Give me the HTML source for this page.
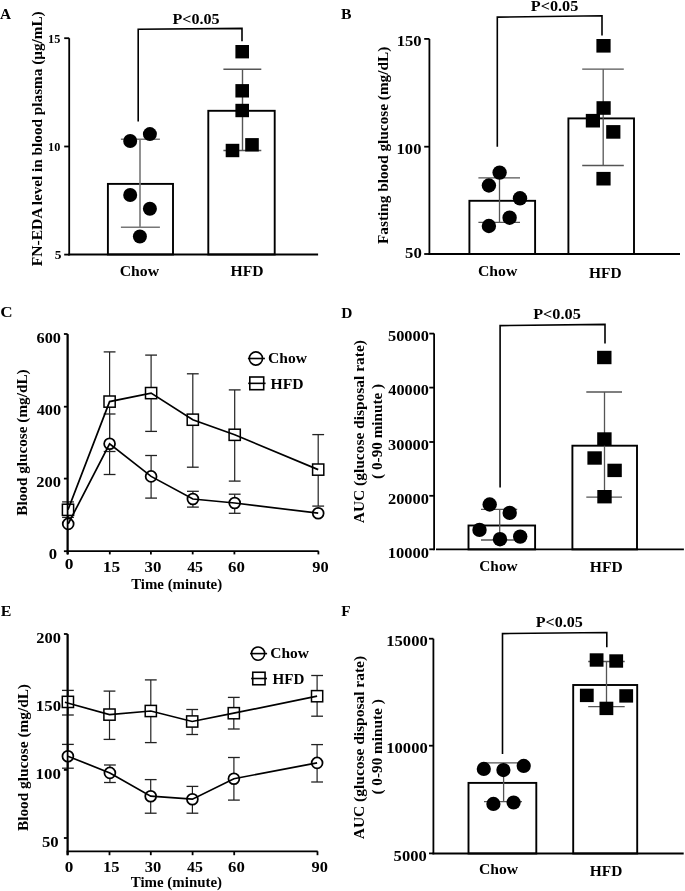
<!DOCTYPE html>
<html><head><meta charset="utf-8"><style>
html,body{margin:0;padding:0;background:#fff;}
svg{display:block;will-change:transform;}
text{font-family:"Liberation Serif", serif;font-weight:bold;fill:#000;}
</style></head><body>
<svg width="685" height="891" viewBox="0 0 685 891">
<rect x="0" y="0" width="685" height="891" fill="#fff"/>
<text x="-0.05" y="18.6" font-size="14" textLength="11.06" lengthAdjust="spacingAndGlyphs">A</text>
<line x1="69.2" y1="38.2" x2="69.2" y2="255.4" stroke="#000" stroke-width="1.8"/>
<line x1="64.2" y1="38.2" x2="69.2" y2="38.2" stroke="#000" stroke-width="1.8"/>
<line x1="64.2" y1="146.5" x2="69.2" y2="146.5" stroke="#000" stroke-width="1.8"/>
<line x1="64.2" y1="254.6" x2="69.2" y2="254.6" stroke="#000" stroke-width="1.8"/>
<text x="48.01" y="42.9" font-size="12.2" textLength="12.32" lengthAdjust="spacingAndGlyphs">15</text>
<text x="48.02" y="150.9" font-size="12.2" textLength="12.27" lengthAdjust="spacingAndGlyphs">10</text>
<text x="54.66" y="258.6" font-size="12.2" textLength="6.71" lengthAdjust="spacingAndGlyphs">5</text>
<line x1="68.3" y1="254.5" x2="318.1" y2="254.5" stroke="#000" stroke-width="1.8"/>
<text transform="translate(41.9 266.23) rotate(-90)" x="0" y="0" font-size="14.8" textLength="58.85" lengthAdjust="spacingAndGlyphs">FN-EDA</text>
<text transform="translate(41.9 205.3) rotate(-90)" x="0" y="0" font-size="14.8" textLength="193.98" lengthAdjust="spacingAndGlyphs">level in blood plasma (μg/mL)</text>
<rect x="107.9" y="183.9" width="65.1" height="70.6" fill="none" stroke="#000" stroke-width="1.9"/>
<rect x="208.3" y="110.8" width="66.4" height="143.7" fill="none" stroke="#000" stroke-width="1.9"/>
<line x1="140" y1="139.2" x2="140" y2="227.3" stroke="#777" stroke-width="1.6"/>
<line x1="120.9" y1="139.2" x2="159.9" y2="139.2" stroke="#777" stroke-width="1.6"/>
<line x1="120.9" y1="227.3" x2="159.9" y2="227.3" stroke="#777" stroke-width="1.6"/>
<line x1="242.5" y1="69.2" x2="242.5" y2="150.5" stroke="#555" stroke-width="1.4"/>
<line x1="223.4" y1="69.2" x2="261.3" y2="69.2" stroke="#555" stroke-width="1.4"/>
<line x1="223.4" y1="150.5" x2="261.3" y2="150.5" stroke="#555" stroke-width="1.4"/>
<circle cx="130.2" cy="141" r="7" fill="#000"/>
<circle cx="149.9" cy="134.1" r="7" fill="#000"/>
<circle cx="130.2" cy="195" r="7" fill="#000"/>
<circle cx="149.9" cy="208.8" r="7" fill="#000"/>
<circle cx="139.9" cy="236.5" r="7" fill="#000"/>
<rect x="235.4" y="45" width="13.6" height="13.4" fill="#000"/>
<rect x="235.4" y="84.1" width="13.6" height="13.4" fill="#000"/>
<rect x="235.4" y="103.8" width="13.6" height="13.4" fill="#000"/>
<rect x="225.7" y="143.8" width="13.6" height="13.4" fill="#000"/>
<rect x="245.2" y="138.1" width="13.6" height="13.4" fill="#000"/>
<polyline points="138.2,121.4 138.2,29.2 242,28.4 242,41.2" fill="none" stroke="#000" stroke-width="1.6" stroke-linejoin="miter"/>
<text x="172.56" y="23.5" font-size="15.3" textLength="47.12" lengthAdjust="spacingAndGlyphs">P&lt;0.05</text>
<text x="119.71" y="275.6" font-size="14.5" textLength="39.37" lengthAdjust="spacingAndGlyphs">Chow</text>
<text x="230.47" y="276.2" font-size="14.5" textLength="33.05" lengthAdjust="spacingAndGlyphs">HFD</text>
<text x="340.96" y="18.7" font-size="14" textLength="10.46" lengthAdjust="spacingAndGlyphs">B</text>
<line x1="429.4" y1="38.9" x2="429.4" y2="254.9" stroke="#000" stroke-width="1.8"/>
<line x1="424.2" y1="38.9" x2="429.4" y2="38.9" stroke="#000" stroke-width="1.8"/>
<line x1="424.2" y1="146.7" x2="429.4" y2="146.7" stroke="#000" stroke-width="1.8"/>
<line x1="424.2" y1="254" x2="429.4" y2="254" stroke="#000" stroke-width="1.8"/>
<text x="396.67" y="46" font-size="15.2" textLength="25" lengthAdjust="spacingAndGlyphs">150</text>
<text x="396.57" y="153.8" font-size="15.2" textLength="24.89" lengthAdjust="spacingAndGlyphs">100</text>
<text x="405.13" y="257.7" font-size="15.2" textLength="16.74" lengthAdjust="spacingAndGlyphs">50</text>
<line x1="428.5" y1="254" x2="680" y2="254" stroke="#000" stroke-width="1.8"/>
<text transform="translate(388.4 244.03) rotate(-90)" x="0" y="0" font-size="15.3" textLength="197.29" lengthAdjust="spacingAndGlyphs">Fasting blood glucose (mg/dL)</text>
<rect x="469.4" y="200.8" width="65.7" height="53.2" fill="none" stroke="#000" stroke-width="1.9"/>
<rect x="568.4" y="118.4" width="65.6" height="135.6" fill="none" stroke="#000" stroke-width="1.9"/>
<line x1="499.5" y1="177.9" x2="499.5" y2="222.4" stroke="#555" stroke-width="1.3"/>
<line x1="478.4" y1="177.9" x2="520" y2="177.9" stroke="#555" stroke-width="1.3"/>
<line x1="478.4" y1="222.4" x2="520" y2="222.4" stroke="#555" stroke-width="1.3"/>
<line x1="603.2" y1="69.2" x2="603.2" y2="165.5" stroke="#555" stroke-width="1.3"/>
<line x1="582.2" y1="69.2" x2="623.8" y2="69.2" stroke="#555" stroke-width="1.3"/>
<line x1="582.2" y1="165.5" x2="623.8" y2="165.5" stroke="#555" stroke-width="1.3"/>
<circle cx="499.6" cy="172.6" r="7.2" fill="#000"/>
<circle cx="488.9" cy="185.5" r="7.2" fill="#000"/>
<circle cx="520" cy="198.3" r="7.2" fill="#000"/>
<circle cx="509.6" cy="217.7" r="7.2" fill="#000"/>
<circle cx="488.9" cy="226" r="7.2" fill="#000"/>
<rect x="596.4" y="39" width="14.2" height="13.6" fill="#000"/>
<rect x="596.5" y="101.2" width="14.2" height="13.6" fill="#000"/>
<rect x="585.8" y="113.9" width="14.2" height="13.6" fill="#000"/>
<rect x="606.2" y="125.1" width="14.2" height="13.6" fill="#000"/>
<rect x="596.4" y="171.9" width="14.2" height="13.6" fill="#000"/>
<polyline points="497.3,146.8 497.3,17.1 602,15.8 602,35.5" fill="none" stroke="#000" stroke-width="1.6" stroke-linejoin="miter"/>
<text x="530.76" y="10.5" font-size="15.3" textLength="47.52" lengthAdjust="spacingAndGlyphs">P&lt;0.05</text>
<text x="478.01" y="276" font-size="14.5" textLength="39.27" lengthAdjust="spacingAndGlyphs">Chow</text>
<text x="589.07" y="278" font-size="14.5" textLength="32.54" lengthAdjust="spacingAndGlyphs">HFD</text>
<text x="0.34" y="317.1" font-size="14" textLength="12.38" lengthAdjust="spacingAndGlyphs">C</text>
<line x1="67.6" y1="334.3" x2="67.6" y2="554.2" stroke="#000" stroke-width="1.8"/>
<line x1="63.9" y1="334" x2="67.6" y2="334" stroke="#000" stroke-width="1.8"/>
<line x1="63.9" y1="406.7" x2="67.6" y2="406.7" stroke="#000" stroke-width="1.8"/>
<line x1="63.9" y1="478.6" x2="67.6" y2="478.6" stroke="#000" stroke-width="1.8"/>
<line x1="63.9" y1="551.2" x2="67.6" y2="551.2" stroke="#000" stroke-width="1.8"/>
<text x="36.53" y="343" font-size="15.2" textLength="24.42" lengthAdjust="spacingAndGlyphs">600</text>
<text x="36.66" y="414.6" font-size="15.2" textLength="24.5" lengthAdjust="spacingAndGlyphs">400</text>
<text x="36.24" y="487.2" font-size="15.2" textLength="24.72" lengthAdjust="spacingAndGlyphs">200</text>
<text x="48.73" y="559" font-size="15.2" textLength="8.33" lengthAdjust="spacingAndGlyphs">0</text>
<line x1="66.7" y1="551.1" x2="318.6" y2="551.1" stroke="#000" stroke-width="1.8"/>
<line x1="67.7" y1="551.1" x2="67.7" y2="554.4" stroke="#000" stroke-width="1.8"/>
<line x1="109.8" y1="551.1" x2="109.8" y2="554.4" stroke="#000" stroke-width="1.8"/>
<line x1="150.9" y1="551.1" x2="150.9" y2="554.4" stroke="#000" stroke-width="1.8"/>
<line x1="192.7" y1="551.1" x2="192.7" y2="554.4" stroke="#000" stroke-width="1.8"/>
<line x1="234.4" y1="551.1" x2="234.4" y2="554.4" stroke="#000" stroke-width="1.8"/>
<line x1="318.4" y1="551.1" x2="318.4" y2="554.4" stroke="#000" stroke-width="1.8"/>
<text x="64.8" y="568.7" font-size="15.2" textLength="8.69" lengthAdjust="spacingAndGlyphs">0</text>
<text x="102.81" y="571.8" font-size="15.2" textLength="17.4" lengthAdjust="spacingAndGlyphs">15</text>
<text x="144.61" y="571.8" font-size="15.2" textLength="16.86" lengthAdjust="spacingAndGlyphs">30</text>
<text x="187.16" y="571.8" font-size="15.2" textLength="15.89" lengthAdjust="spacingAndGlyphs">45</text>
<text x="228.11" y="571.8" font-size="15.2" textLength="16.86" lengthAdjust="spacingAndGlyphs">60</text>
<text x="312.39" y="571.8" font-size="15.2" textLength="16.36" lengthAdjust="spacingAndGlyphs">90</text>
<text x="131.18" y="589.2" font-size="15" textLength="90.99" lengthAdjust="spacingAndGlyphs">Time (minute)</text>
<text transform="translate(27.2 515.73) rotate(-90)" x="0" y="0" font-size="15" textLength="146.37" lengthAdjust="spacingAndGlyphs">Blood glucose (mg/dL)</text>
<circle cx="255.9" cy="358.5" r="6.6" fill="#fff"/>
<circle cx="255.9" cy="358.5" r="6.6" fill="#fff" stroke="#000" stroke-width="1.6"/>
<line x1="247.9" y1="358.5" x2="264.9" y2="358.5" stroke="#000" stroke-width="1.6"/>
<rect x="249.8" y="377" width="13.9" height="12.7" fill="#fff" stroke="#000" stroke-width="1.6"/>
<line x1="248.2" y1="383.35" x2="265.6" y2="383.35" stroke="#000" stroke-width="1.6"/>
<text x="268.02" y="362.9" font-size="14.5" textLength="38.97" lengthAdjust="spacingAndGlyphs">Chow</text>
<text x="270.47" y="388.6" font-size="14.5" textLength="33.05" lengthAdjust="spacingAndGlyphs">HFD</text>
<line x1="68" y1="501.9" x2="68" y2="509.8" stroke="#222" stroke-width="1.2"/>
<line x1="62.1" y1="501.9" x2="73.9" y2="501.9" stroke="#222" stroke-width="1.3"/>
<line x1="68" y1="509.8" x2="68" y2="517.4" stroke="#222" stroke-width="1.2"/>
<line x1="62.1" y1="517.4" x2="73.9" y2="517.4" stroke="#222" stroke-width="1.3"/>
<line x1="109.6" y1="351.9" x2="109.6" y2="401.6" stroke="#222" stroke-width="1.2"/>
<line x1="103.7" y1="351.9" x2="115.5" y2="351.9" stroke="#222" stroke-width="1.3"/>
<line x1="109.6" y1="401.6" x2="109.6" y2="451.5" stroke="#222" stroke-width="1.2"/>
<line x1="103.7" y1="451.5" x2="115.5" y2="451.5" stroke="#222" stroke-width="1.3"/>
<line x1="151.1" y1="355.1" x2="151.1" y2="393.1" stroke="#222" stroke-width="1.2"/>
<line x1="145.2" y1="355.1" x2="157" y2="355.1" stroke="#222" stroke-width="1.3"/>
<line x1="151.1" y1="393.1" x2="151.1" y2="431.4" stroke="#222" stroke-width="1.2"/>
<line x1="145.2" y1="431.4" x2="157" y2="431.4" stroke="#222" stroke-width="1.3"/>
<line x1="192.8" y1="373.8" x2="192.8" y2="419.7" stroke="#222" stroke-width="1.2"/>
<line x1="186.9" y1="373.8" x2="198.7" y2="373.8" stroke="#222" stroke-width="1.3"/>
<line x1="192.8" y1="419.7" x2="192.8" y2="467.2" stroke="#222" stroke-width="1.2"/>
<line x1="186.9" y1="467.2" x2="198.7" y2="467.2" stroke="#222" stroke-width="1.3"/>
<line x1="234.7" y1="389.9" x2="234.7" y2="434.8" stroke="#222" stroke-width="1.2"/>
<line x1="228.8" y1="389.9" x2="240.6" y2="389.9" stroke="#222" stroke-width="1.3"/>
<line x1="234.7" y1="434.8" x2="234.7" y2="481.1" stroke="#222" stroke-width="1.2"/>
<line x1="228.8" y1="481.1" x2="240.6" y2="481.1" stroke="#222" stroke-width="1.3"/>
<line x1="318.2" y1="434.6" x2="318.2" y2="469.6" stroke="#222" stroke-width="1.2"/>
<line x1="312.3" y1="434.6" x2="324.1" y2="434.6" stroke="#222" stroke-width="1.3"/>
<line x1="318.2" y1="469.6" x2="318.2" y2="506.1" stroke="#222" stroke-width="1.2"/>
<line x1="312.3" y1="506.1" x2="324.1" y2="506.1" stroke="#222" stroke-width="1.3"/>
<line x1="109.6" y1="414" x2="109.6" y2="443.8" stroke="#222" stroke-width="1.2"/>
<line x1="103.7" y1="414" x2="115.5" y2="414" stroke="#222" stroke-width="1.3"/>
<line x1="109.6" y1="443.8" x2="109.6" y2="474.5" stroke="#222" stroke-width="1.2"/>
<line x1="103.7" y1="474.5" x2="115.5" y2="474.5" stroke="#222" stroke-width="1.3"/>
<line x1="151.1" y1="455.5" x2="151.1" y2="476.4" stroke="#222" stroke-width="1.2"/>
<line x1="145.2" y1="455.5" x2="157" y2="455.5" stroke="#222" stroke-width="1.3"/>
<line x1="151.1" y1="476.4" x2="151.1" y2="498.1" stroke="#222" stroke-width="1.2"/>
<line x1="145.2" y1="498.1" x2="157" y2="498.1" stroke="#222" stroke-width="1.3"/>
<line x1="192.9" y1="491.3" x2="192.9" y2="499" stroke="#222" stroke-width="1.2"/>
<line x1="187" y1="491.3" x2="198.8" y2="491.3" stroke="#222" stroke-width="1.3"/>
<line x1="192.9" y1="499" x2="192.9" y2="507.1" stroke="#222" stroke-width="1.2"/>
<line x1="187" y1="507.1" x2="198.8" y2="507.1" stroke="#222" stroke-width="1.3"/>
<line x1="234.7" y1="494.2" x2="234.7" y2="503" stroke="#222" stroke-width="1.2"/>
<line x1="228.8" y1="494.2" x2="240.6" y2="494.2" stroke="#222" stroke-width="1.3"/>
<line x1="234.7" y1="503" x2="234.7" y2="513.3" stroke="#222" stroke-width="1.2"/>
<line x1="228.8" y1="513.3" x2="240.6" y2="513.3" stroke="#222" stroke-width="1.3"/>
<rect x="62.4" y="504.2" width="11.2" height="11.2" fill="#fff"/>
<rect x="104" y="396" width="11.2" height="11.2" fill="#fff"/>
<rect x="145.5" y="387.5" width="11.2" height="11.2" fill="#fff"/>
<rect x="187.2" y="414.1" width="11.2" height="11.2" fill="#fff"/>
<rect x="229.1" y="429.2" width="11.2" height="11.2" fill="#fff"/>
<rect x="312.6" y="464" width="11.2" height="11.2" fill="#fff"/>
<circle cx="68.2" cy="523.9" r="5.45" fill="#fff"/>
<circle cx="109.6" cy="443.8" r="5.45" fill="#fff"/>
<circle cx="151.1" cy="476.4" r="5.45" fill="#fff"/>
<circle cx="192.9" cy="499" r="5.45" fill="#fff"/>
<circle cx="234.7" cy="503" r="5.45" fill="#fff"/>
<circle cx="318.2" cy="513.2" r="5.45" fill="#fff"/>
<polyline points="68,509.8 109.6,401.6 151.1,393.1 192.8,419.7 234.7,434.8 318.2,469.6" fill="none" stroke="#000" stroke-width="1.7" stroke-linejoin="miter"/>
<polyline points="68.2,523.9 109.6,443.8 151.1,476.4 192.9,499 234.7,503 318.2,513.2" fill="none" stroke="#000" stroke-width="1.7" stroke-linejoin="miter"/>
<rect x="62.4" y="504.2" width="11.2" height="11.2" fill="none" stroke="#000" stroke-width="1.5"/>
<rect x="104" y="396" width="11.2" height="11.2" fill="none" stroke="#000" stroke-width="1.5"/>
<rect x="145.5" y="387.5" width="11.2" height="11.2" fill="none" stroke="#000" stroke-width="1.5"/>
<rect x="187.2" y="414.1" width="11.2" height="11.2" fill="none" stroke="#000" stroke-width="1.5"/>
<rect x="229.1" y="429.2" width="11.2" height="11.2" fill="none" stroke="#000" stroke-width="1.5"/>
<rect x="312.6" y="464" width="11.2" height="11.2" fill="none" stroke="#000" stroke-width="1.5"/>
<circle cx="68.2" cy="523.9" r="5.45" fill="none" stroke="#000" stroke-width="1.75"/>
<circle cx="109.6" cy="443.8" r="5.45" fill="none" stroke="#000" stroke-width="1.75"/>
<circle cx="151.1" cy="476.4" r="5.45" fill="none" stroke="#000" stroke-width="1.75"/>
<circle cx="192.9" cy="499" r="5.45" fill="none" stroke="#000" stroke-width="1.75"/>
<circle cx="234.7" cy="503" r="5.45" fill="none" stroke="#000" stroke-width="1.75"/>
<circle cx="318.2" cy="513.2" r="5.45" fill="none" stroke="#000" stroke-width="1.75"/>
<line x1="67.6" y1="334" x2="67.6" y2="554.4" stroke="#000" stroke-width="1.8"/>
<text x="341.27" y="317.5" font-size="14" textLength="11.16" lengthAdjust="spacingAndGlyphs">D</text>
<line x1="434.1" y1="333.6" x2="434.1" y2="550.3" stroke="#000" stroke-width="1.8"/>
<line x1="429.3" y1="333.6" x2="434.1" y2="333.6" stroke="#000" stroke-width="1.8"/>
<line x1="429.3" y1="387.6" x2="434.1" y2="387.6" stroke="#000" stroke-width="1.8"/>
<line x1="429.3" y1="442" x2="434.1" y2="442" stroke="#000" stroke-width="1.8"/>
<line x1="429.3" y1="495.8" x2="434.1" y2="495.8" stroke="#000" stroke-width="1.8"/>
<line x1="429.3" y1="549.3" x2="434.1" y2="549.3" stroke="#000" stroke-width="1.8"/>
<text x="387.94" y="340.9" font-size="15" textLength="41.01" lengthAdjust="spacingAndGlyphs">50000</text>
<text x="388.36" y="394.7" font-size="15" textLength="40.59" lengthAdjust="spacingAndGlyphs">40000</text>
<text x="388.03" y="449.8" font-size="15" textLength="40.93" lengthAdjust="spacingAndGlyphs">30000</text>
<text x="387.94" y="503.9" font-size="15" textLength="41.01" lengthAdjust="spacingAndGlyphs">20000</text>
<text x="387.68" y="557.5" font-size="15" textLength="41.28" lengthAdjust="spacingAndGlyphs">10000</text>
<line x1="436" y1="549.4" x2="683.9" y2="549.4" stroke="#000" stroke-width="1.8"/>
<text transform="translate(363.5 523.25) rotate(-90)" x="0" y="0" font-size="15" textLength="183.16" lengthAdjust="spacingAndGlyphs">AUC (glucose disposal rate)</text>
<text transform="translate(382.3 478.88) rotate(-90)" x="0" y="0" font-size="15" textLength="94.96" lengthAdjust="spacingAndGlyphs">( 0-90 minute )</text>
<rect x="468.5" y="525.5" width="66.6" height="23.9" fill="none" stroke="#000" stroke-width="1.9"/>
<rect x="572.4" y="445.7" width="64.6" height="103.7" fill="none" stroke="#000" stroke-width="1.9"/>
<line x1="499.7" y1="509.4" x2="499.7" y2="540" stroke="#555" stroke-width="1.3"/>
<line x1="481" y1="509.4" x2="517.2" y2="509.4" stroke="#555" stroke-width="1.3"/>
<line x1="481" y1="540" x2="517.2" y2="540" stroke="#555" stroke-width="1.3"/>
<line x1="604.5" y1="392" x2="604.5" y2="497.2" stroke="#555" stroke-width="1.3"/>
<line x1="586.3" y1="392" x2="622" y2="392" stroke="#555" stroke-width="1.3"/>
<line x1="586.3" y1="497.2" x2="622" y2="497.2" stroke="#555" stroke-width="1.3"/>
<circle cx="489.7" cy="504.5" r="7.2" fill="#000"/>
<circle cx="509.7" cy="512.9" r="7.2" fill="#000"/>
<circle cx="479.5" cy="529.9" r="7.2" fill="#000"/>
<circle cx="500" cy="539.2" r="7.2" fill="#000"/>
<circle cx="520.2" cy="536.6" r="7.2" fill="#000"/>
<rect x="597.1" y="350.8" width="14.4" height="13.4" fill="#000"/>
<rect x="597.2" y="432.3" width="14.4" height="13.4" fill="#000"/>
<rect x="587.4" y="451.3" width="14.4" height="13.4" fill="#000"/>
<rect x="607.4" y="463.7" width="14.4" height="13.4" fill="#000"/>
<rect x="597.3" y="490" width="14.4" height="13.4" fill="#000"/>
<polyline points="500.1,487.4 500.1,325.6 605,324.4 605,343.5" fill="none" stroke="#000" stroke-width="1.6" stroke-linejoin="miter"/>
<text x="533.16" y="319.4" font-size="15.3" textLength="47.62" lengthAdjust="spacingAndGlyphs">P&lt;0.05</text>
<text x="479.34" y="570.7" font-size="14.5" textLength="38.25" lengthAdjust="spacingAndGlyphs">Chow</text>
<text x="589.87" y="572" font-size="14.5" textLength="32.85" lengthAdjust="spacingAndGlyphs">HFD</text>
<text x="0.66" y="615.8" font-size="15.2" textLength="10.67" lengthAdjust="spacingAndGlyphs">E</text>
<line x1="67.6" y1="634.3" x2="67.6" y2="854.6" stroke="#000" stroke-width="1.8"/>
<line x1="63.9" y1="634" x2="67.6" y2="634" stroke="#000" stroke-width="1.8"/>
<line x1="63.9" y1="702.1" x2="67.6" y2="702.1" stroke="#000" stroke-width="1.8"/>
<line x1="63.9" y1="769.9" x2="67.6" y2="769.9" stroke="#000" stroke-width="1.8"/>
<line x1="63.9" y1="838" x2="67.6" y2="838" stroke="#000" stroke-width="1.8"/>
<text x="36.24" y="642.9" font-size="15.2" textLength="24.61" lengthAdjust="spacingAndGlyphs">200</text>
<text x="35.86" y="710.6" font-size="15.2" textLength="25.22" lengthAdjust="spacingAndGlyphs">150</text>
<text x="35.55" y="779.1" font-size="15.2" textLength="25.33" lengthAdjust="spacingAndGlyphs">100</text>
<text x="41.93" y="846.9" font-size="15.2" textLength="16.74" lengthAdjust="spacingAndGlyphs">50</text>
<line x1="66.7" y1="851.3" x2="317.7" y2="851.3" stroke="#000" stroke-width="1.8"/>
<line x1="67.6" y1="851.3" x2="67.6" y2="855.2" stroke="#000" stroke-width="1.8"/>
<line x1="109.5" y1="851.3" x2="109.5" y2="855.2" stroke="#000" stroke-width="1.8"/>
<line x1="150.8" y1="851.3" x2="150.8" y2="855.2" stroke="#000" stroke-width="1.8"/>
<line x1="192.6" y1="851.3" x2="192.6" y2="855.2" stroke="#000" stroke-width="1.8"/>
<line x1="234.2" y1="851.3" x2="234.2" y2="855.2" stroke="#000" stroke-width="1.8"/>
<line x1="317.5" y1="851.3" x2="317.5" y2="855.2" stroke="#000" stroke-width="1.8"/>
<text x="64.81" y="871.5" font-size="15.2" textLength="8.57" lengthAdjust="spacingAndGlyphs">0</text>
<text x="103.07" y="871.5" font-size="15.2" textLength="16.61" lengthAdjust="spacingAndGlyphs">15</text>
<text x="144.72" y="871.5" font-size="15.2" textLength="16.54" lengthAdjust="spacingAndGlyphs">30</text>
<text x="186.96" y="871.5" font-size="15.2" textLength="15.89" lengthAdjust="spacingAndGlyphs">45</text>
<text x="228.01" y="871.5" font-size="15.2" textLength="16.76" lengthAdjust="spacingAndGlyphs">60</text>
<text x="311.59" y="871.5" font-size="15.2" textLength="16.36" lengthAdjust="spacingAndGlyphs">90</text>
<text x="130.78" y="886.9" font-size="15" textLength="91.29" lengthAdjust="spacingAndGlyphs">Time (minute)</text>
<text transform="translate(28.1 831.03) rotate(-90)" x="0" y="0" font-size="15" textLength="146.97" lengthAdjust="spacingAndGlyphs">Blood glucose (mg/dL)</text>
<circle cx="258.1" cy="653.6" r="6.6" fill="#fff"/>
<circle cx="258.1" cy="653.6" r="6.6" fill="#fff" stroke="#000" stroke-width="1.6"/>
<line x1="250.1" y1="653.6" x2="267.1" y2="653.6" stroke="#000" stroke-width="1.6"/>
<rect x="252.75" y="672.25" width="12.3" height="12.5" fill="#fff" stroke="#000" stroke-width="1.6"/>
<line x1="251.15" y1="678.5" x2="266.95" y2="678.5" stroke="#000" stroke-width="1.6"/>
<text x="270.33" y="658.2" font-size="14.5" textLength="38.66" lengthAdjust="spacingAndGlyphs">Chow</text>
<text x="272.57" y="683.6" font-size="14.5" textLength="31.92" lengthAdjust="spacingAndGlyphs">HFD</text>
<line x1="67.9" y1="690.4" x2="67.9" y2="701.9" stroke="#222" stroke-width="1.2"/>
<line x1="62" y1="690.4" x2="73.8" y2="690.4" stroke="#222" stroke-width="1.3"/>
<line x1="67.9" y1="701.9" x2="67.9" y2="715" stroke="#222" stroke-width="1.2"/>
<line x1="62" y1="715" x2="73.8" y2="715" stroke="#222" stroke-width="1.3"/>
<line x1="109.5" y1="691.1" x2="109.5" y2="714.6" stroke="#222" stroke-width="1.2"/>
<line x1="103.6" y1="691.1" x2="115.4" y2="691.1" stroke="#222" stroke-width="1.3"/>
<line x1="109.5" y1="714.6" x2="109.5" y2="739.4" stroke="#222" stroke-width="1.2"/>
<line x1="103.6" y1="739.4" x2="115.4" y2="739.4" stroke="#222" stroke-width="1.3"/>
<line x1="150.8" y1="679.9" x2="150.8" y2="711" stroke="#222" stroke-width="1.2"/>
<line x1="144.9" y1="679.9" x2="156.7" y2="679.9" stroke="#222" stroke-width="1.3"/>
<line x1="150.8" y1="711" x2="150.8" y2="742.6" stroke="#222" stroke-width="1.2"/>
<line x1="144.9" y1="742.6" x2="156.7" y2="742.6" stroke="#222" stroke-width="1.3"/>
<line x1="192.2" y1="709.5" x2="192.2" y2="721.5" stroke="#222" stroke-width="1.2"/>
<line x1="186.3" y1="709.5" x2="198.1" y2="709.5" stroke="#222" stroke-width="1.3"/>
<line x1="192.2" y1="721.5" x2="192.2" y2="734.5" stroke="#222" stroke-width="1.2"/>
<line x1="186.3" y1="734.5" x2="198.1" y2="734.5" stroke="#222" stroke-width="1.3"/>
<line x1="233.8" y1="697.4" x2="233.8" y2="713.2" stroke="#222" stroke-width="1.2"/>
<line x1="227.9" y1="697.4" x2="239.7" y2="697.4" stroke="#222" stroke-width="1.3"/>
<line x1="233.8" y1="713.2" x2="233.8" y2="729" stroke="#222" stroke-width="1.2"/>
<line x1="227.9" y1="729" x2="239.7" y2="729" stroke="#222" stroke-width="1.3"/>
<line x1="317.1" y1="675.5" x2="317.1" y2="696.2" stroke="#222" stroke-width="1.2"/>
<line x1="311.2" y1="675.5" x2="323" y2="675.5" stroke="#222" stroke-width="1.3"/>
<line x1="317.1" y1="696.2" x2="317.1" y2="716.2" stroke="#222" stroke-width="1.2"/>
<line x1="311.2" y1="716.2" x2="323" y2="716.2" stroke="#222" stroke-width="1.3"/>
<line x1="67.9" y1="744.4" x2="67.9" y2="756.2" stroke="#222" stroke-width="1.2"/>
<line x1="62" y1="744.4" x2="73.8" y2="744.4" stroke="#222" stroke-width="1.3"/>
<line x1="67.9" y1="756.2" x2="67.9" y2="768.2" stroke="#222" stroke-width="1.2"/>
<line x1="62" y1="768.2" x2="73.8" y2="768.2" stroke="#222" stroke-width="1.3"/>
<line x1="109.9" y1="765" x2="109.9" y2="772.9" stroke="#222" stroke-width="1.2"/>
<line x1="104" y1="765" x2="115.8" y2="765" stroke="#222" stroke-width="1.3"/>
<line x1="109.9" y1="772.9" x2="109.9" y2="782.5" stroke="#222" stroke-width="1.2"/>
<line x1="104" y1="782.5" x2="115.8" y2="782.5" stroke="#222" stroke-width="1.3"/>
<line x1="150.7" y1="779.6" x2="150.7" y2="796.2" stroke="#222" stroke-width="1.2"/>
<line x1="144.8" y1="779.6" x2="156.6" y2="779.6" stroke="#222" stroke-width="1.3"/>
<line x1="150.7" y1="796.2" x2="150.7" y2="813.2" stroke="#222" stroke-width="1.2"/>
<line x1="144.8" y1="813.2" x2="156.6" y2="813.2" stroke="#222" stroke-width="1.3"/>
<line x1="192.4" y1="786.4" x2="192.4" y2="799.2" stroke="#222" stroke-width="1.2"/>
<line x1="186.5" y1="786.4" x2="198.3" y2="786.4" stroke="#222" stroke-width="1.3"/>
<line x1="192.4" y1="799.2" x2="192.4" y2="813.2" stroke="#222" stroke-width="1.2"/>
<line x1="186.5" y1="813.2" x2="198.3" y2="813.2" stroke="#222" stroke-width="1.3"/>
<line x1="233.9" y1="757.5" x2="233.9" y2="778.7" stroke="#222" stroke-width="1.2"/>
<line x1="228" y1="757.5" x2="239.8" y2="757.5" stroke="#222" stroke-width="1.3"/>
<line x1="233.9" y1="778.7" x2="233.9" y2="800.1" stroke="#222" stroke-width="1.2"/>
<line x1="228" y1="800.1" x2="239.8" y2="800.1" stroke="#222" stroke-width="1.3"/>
<line x1="317.1" y1="744.6" x2="317.1" y2="762.9" stroke="#222" stroke-width="1.2"/>
<line x1="311.2" y1="744.6" x2="323" y2="744.6" stroke="#222" stroke-width="1.3"/>
<line x1="317.1" y1="762.9" x2="317.1" y2="782" stroke="#222" stroke-width="1.2"/>
<line x1="311.2" y1="782" x2="323" y2="782" stroke="#222" stroke-width="1.3"/>
<rect x="62.3" y="696.3" width="11.2" height="11.2" fill="#fff"/>
<rect x="103.9" y="709" width="11.2" height="11.2" fill="#fff"/>
<rect x="145.2" y="705.4" width="11.2" height="11.2" fill="#fff"/>
<rect x="186.6" y="715.9" width="11.2" height="11.2" fill="#fff"/>
<rect x="228.2" y="707.6" width="11.2" height="11.2" fill="#fff"/>
<rect x="311.5" y="690.6" width="11.2" height="11.2" fill="#fff"/>
<circle cx="67.9" cy="756.2" r="5.45" fill="#fff"/>
<circle cx="109.9" cy="772.9" r="5.45" fill="#fff"/>
<circle cx="150.7" cy="796.2" r="5.45" fill="#fff"/>
<circle cx="192.4" cy="799.2" r="5.45" fill="#fff"/>
<circle cx="233.9" cy="778.7" r="5.45" fill="#fff"/>
<circle cx="317.1" cy="762.9" r="5.45" fill="#fff"/>
<polyline points="64.9,702.2 109.5,714.6 150.8,711 192.2,721.5 233.8,713.2 317.1,696.2" fill="none" stroke="#000" stroke-width="1.7" stroke-linejoin="miter"/>
<polyline points="67.9,756.2 109.9,772.9 150.7,796.2 192.4,799.2 233.9,778.7 317.1,762.9" fill="none" stroke="#000" stroke-width="1.7" stroke-linejoin="miter"/>
<rect x="62.3" y="696.3" width="11.2" height="11.2" fill="none" stroke="#000" stroke-width="1.5"/>
<rect x="103.9" y="709" width="11.2" height="11.2" fill="none" stroke="#000" stroke-width="1.5"/>
<rect x="145.2" y="705.4" width="11.2" height="11.2" fill="none" stroke="#000" stroke-width="1.5"/>
<rect x="186.6" y="715.9" width="11.2" height="11.2" fill="none" stroke="#000" stroke-width="1.5"/>
<rect x="228.2" y="707.6" width="11.2" height="11.2" fill="none" stroke="#000" stroke-width="1.5"/>
<rect x="311.5" y="690.6" width="11.2" height="11.2" fill="none" stroke="#000" stroke-width="1.5"/>
<circle cx="67.9" cy="756.2" r="5.45" fill="none" stroke="#000" stroke-width="1.75"/>
<circle cx="109.9" cy="772.9" r="5.45" fill="none" stroke="#000" stroke-width="1.75"/>
<circle cx="150.7" cy="796.2" r="5.45" fill="none" stroke="#000" stroke-width="1.75"/>
<circle cx="192.4" cy="799.2" r="5.45" fill="none" stroke="#000" stroke-width="1.75"/>
<circle cx="233.9" cy="778.7" r="5.45" fill="none" stroke="#000" stroke-width="1.75"/>
<circle cx="317.1" cy="762.9" r="5.45" fill="none" stroke="#000" stroke-width="1.75"/>
<line x1="67.6" y1="634" x2="67.6" y2="855.2" stroke="#000" stroke-width="1.8"/>
<text x="341.27" y="615.8" font-size="14" textLength="9.33" lengthAdjust="spacingAndGlyphs">F</text>
<line x1="433.4" y1="638.7" x2="433.4" y2="854.3" stroke="#000" stroke-width="1.8"/>
<line x1="429" y1="638.7" x2="433.4" y2="638.7" stroke="#000" stroke-width="1.8"/>
<line x1="429" y1="745.7" x2="433.4" y2="745.7" stroke="#000" stroke-width="1.8"/>
<line x1="429" y1="853.4" x2="433.4" y2="853.4" stroke="#000" stroke-width="1.8"/>
<text x="386.27" y="646" font-size="15" textLength="41.49" lengthAdjust="spacingAndGlyphs">15000</text>
<text x="386.27" y="752.8" font-size="15" textLength="41.49" lengthAdjust="spacingAndGlyphs">10000</text>
<text x="393.64" y="861" font-size="15" textLength="33.13" lengthAdjust="spacingAndGlyphs">5000</text>
<line x1="432.5" y1="853.5" x2="683.7" y2="853.5" stroke="#000" stroke-width="1.8"/>
<text transform="translate(363.5 839.25) rotate(-90)" x="0" y="0" font-size="15" textLength="183.36" lengthAdjust="spacingAndGlyphs">AUC (glucose disposal rate)</text>
<text transform="translate(382.3 794.59) rotate(-90)" x="0" y="0" font-size="15" textLength="95.36" lengthAdjust="spacingAndGlyphs">( 0-90 minute )</text>
<rect x="468.5" y="782.9" width="67.8" height="70.6" fill="none" stroke="#000" stroke-width="1.9"/>
<rect x="573.2" y="685" width="64" height="168.5" fill="none" stroke="#000" stroke-width="1.9"/>
<line x1="503.6" y1="762.8" x2="503.6" y2="801.6" stroke="#555" stroke-width="1.3"/>
<line x1="484" y1="762.8" x2="522" y2="762.8" stroke="#555" stroke-width="1.3"/>
<line x1="484" y1="801.6" x2="522" y2="801.6" stroke="#555" stroke-width="1.3"/>
<line x1="606.5" y1="661.5" x2="606.5" y2="706.6" stroke="#555" stroke-width="1.3"/>
<line x1="588.2" y1="661.5" x2="624.7" y2="661.5" stroke="#555" stroke-width="1.3"/>
<line x1="588.2" y1="706.6" x2="624.7" y2="706.6" stroke="#555" stroke-width="1.3"/>
<circle cx="483.8" cy="768.9" r="7.1" fill="#000"/>
<circle cx="503.4" cy="770.1" r="7.1" fill="#000"/>
<circle cx="523.7" cy="765.9" r="7.1" fill="#000"/>
<circle cx="493.4" cy="803.9" r="7.1" fill="#000"/>
<circle cx="513.6" cy="802.5" r="7.1" fill="#000"/>
<rect x="589.7" y="653.3" width="13.8" height="13.4" fill="#000"/>
<rect x="609.3" y="654.3" width="13.8" height="13.4" fill="#000"/>
<rect x="579.9" y="688.7" width="13.8" height="13.4" fill="#000"/>
<rect x="619.3" y="689.2" width="13.8" height="13.4" fill="#000"/>
<rect x="599.5" y="701.7" width="13.8" height="13.4" fill="#000"/>
<polyline points="502.5,754 502.5,633.6 606.8,632.5 606.8,647.2" fill="none" stroke="#000" stroke-width="1.6" stroke-linejoin="miter"/>
<text x="535.66" y="627.1" font-size="15.3" textLength="47.22" lengthAdjust="spacingAndGlyphs">P&lt;0.05</text>
<text x="478.92" y="874" font-size="14.5" textLength="39.17" lengthAdjust="spacingAndGlyphs">Chow</text>
<text x="589.87" y="875.6" font-size="14.5" textLength="32.54" lengthAdjust="spacingAndGlyphs">HFD</text>
</svg>
</body></html>
